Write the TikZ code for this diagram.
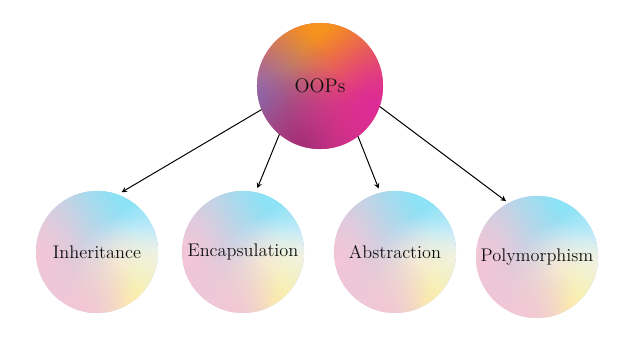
\documentclass[tikz,border=0pt]{standalone}
\usetikzlibrary{fadings}
\tikzfading[name=blobfade, inner color=transparent!0, outer color=transparent!100]
\definecolor{txtgray}{HTML}{111111}
\definecolor{oopmag}{HTML}{DD2A98}
\definecolor{ooporange}{HTML}{F6921E}
\definecolor{ooppurple}{HTML}{8672B4}
\definecolor{oopdark}{HTML}{9E2F74}
\definecolor{pastpink}{HTML}{F3C6D7}
\definecolor{pastcyan}{HTML}{8CE3F7}
\definecolor{pastwhite}{HTML}{F2F4FA}
\definecolor{pastyellow}{HTML}{FFF3A6}
\tikzset{
  blob/.style={path fading=blobfade},
  oopball/.style={circle, minimum size=3.15cm, inner sep=0pt, text=txtgray,
    font=\fontsize{14}{16}\selectfont,
    path picture={
      \fill[oopmag] (path picture bounding box.center) circle (2cm);
      \fill[ooporange, blob] ([shift={(-0.2cm,1.3cm)}]path picture bounding box.center) circle (3.4cm);
      \fill[ooporange, blob] ([shift={(0.1cm,1.5cm)}]path picture bounding box.center) circle (2cm);
      \fill[ooppurple, blob] ([shift={(-1.6cm,-0.4cm)}]path picture bounding box.center) circle (2.2cm);
      \fill[oopdark, blob] ([shift={(-0.4cm,-1.5cm)}]path picture bounding box.center) circle (2cm);
      \fill[oopmag, blob] ([shift={(1.3cm,-0.5cm)}]path picture bounding box.center) circle (2.2cm);
    }},
  pastelball/.style={circle, minimum size=3.05cm, inner sep=0pt, text=txtgray,
    font=\fontsize{13}{15}\selectfont,
    path picture={
      \fill[pastpink] (path picture bounding box.center) circle (2cm);
      \fill[pastcyan, blob] ([shift={(0.8cm,1.0cm)}]path picture bounding box.center) circle (3.4cm);
      \fill[pastcyan, blob] ([shift={(0.7cm,1.2cm)}]path picture bounding box.center) circle (2.4cm);
      \fill[pastcyan, blob] ([shift={(0.9cm,0.9cm)}]path picture bounding box.center) circle (1.6cm);
      \fill[pastwhite, blob] ([shift={(1.6cm,-0.2cm)}]path picture bounding box.center) circle (1.6cm);
      \fill[pastwhite, blob] ([shift={(0.6cm,-0.3cm)}]path picture bounding box.center) circle (1.2cm);
      \fill[pastyellow, blob] ([shift={(0.8cm,-1.2cm)}]path picture bounding box.center) circle (1.8cm);
      \fill[pastpink, blob] ([shift={(-1.4cm,-0.1cm)}]path picture bounding box.center) circle (2.4cm);
      \fill[pastpink, blob] ([shift={(-0.4cm,-1.6cm)}]path picture bounding box.center) circle (1.6cm);
    }},
}
\begin{document}
\begin{tikzpicture}[x=0.025cm, y=-0.025cm, >=stealth, line cap=round]
  \useasboundingbox (0,0) rectangle (640,360);
  % root
  \node[oopball] (oops) at (320,86) {OOPs};
  % children
  \node[pastelball] (inherit) at (97,252) {Inheritance};
  \node[pastelball] (encap) at (243,252) {Encapsulation};
  \node[pastelball] (abstr) at (395,252) {Abstraction};
  \node[pastelball] (poly) at (537,257) {Polymorphism};
  % arrows
  \draw[->, line width=0.7pt, shorten >=3pt] (oops.202) -- (inherit.70);
  \draw[->, line width=0.7pt, shorten >=3pt] (oops.230) -- (encap.78);
  \draw[->, line width=0.7pt, shorten >=3pt] (oops.307) -- (abstr.104);
  \draw[->, line width=0.7pt, shorten >=2pt] (oops.341) -- (poly.118);
\end{tikzpicture}
\end{document}
